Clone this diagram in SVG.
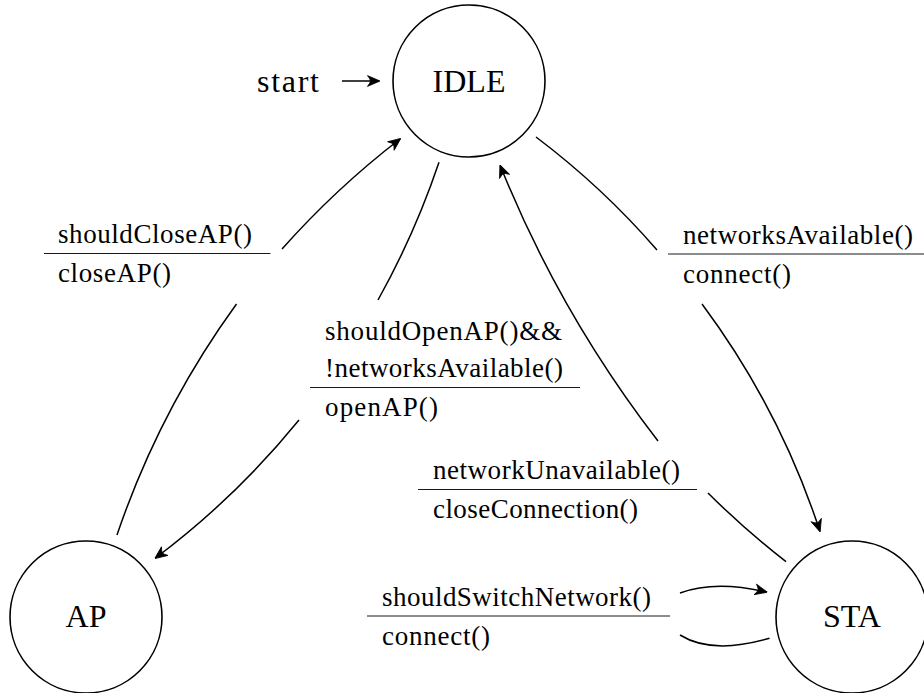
<svg xmlns="http://www.w3.org/2000/svg" width="924" height="693" viewBox="0 0 924 693">
  <style>
    .state { fill: #fff; stroke: #000; stroke-width: 1.6; }
    .name { font-size: 32px; fill: #000; }
    .lbl { font-size: 27px; fill: #000; }
    .rule { stroke: #000; stroke-width: 0.9; fill: none; }
    .edge { fill: none; stroke: #000; stroke-width: 1.5; marker-end: url(#arrow); }
  </style>
  <defs>
    <marker id="arrow" viewBox="-14 -7 15 14" refX="0" refY="0" markerWidth="15" markerHeight="14" markerUnits="userSpaceOnUse" orient="auto">
      <path d="M1,0 L-11.5,-5.4 Q-8.5,-1.4 -8.5,0 Q-8.5,1.4 -11.5,5.4 Z" fill="#000" stroke="#000" stroke-width="0.8" stroke-linejoin="round"/>
    </marker>
  </defs>

  <rect width="924" height="693" fill="#fff"/>

  <!-- transitions: each edge is split where its guard/action label sits -->
  <g id="connectors">
    <path id="start-arrow" class="edge" d="M342,81 L379,81"/>
    <path id="ap-to-idle" class="edge" d="M117,535 Q159.3,410.3 236.5,304 M282,249 Q336.1,188.2 400,139"/>
    <path id="idle-to-ap" class="edge" d="M439,162.3 Q414.9,233.8 378,300 M299,420 Q235.6,498 155.5,558"/>
    <path id="idle-to-sta" class="edge" d="M536,137 Q602.5,187.1 657,250 M702,304 Q779.6,408.3 819.8,531"/>
    <path id="sta-to-idle" class="edge" d="M786,561.7 Q745,529.8 708,493 M658,441 Q559.9,313.9 500.3,165.7"/>
    <path id="sta-loop" class="edge" d="M769.5,638.3 Q712,655 680,635 M680,593 Q715,580 766.5,592"/>
  </g>

  <g font-family="'Liberation Serif', 'Times New Roman', Times, 'DejaVu Serif', serif">
    <g id="idle">
      <circle class="state" cx="469" cy="81" r="76"/>
      <text class="name" x="469" y="92" text-anchor="middle">IDLE</text>
    </g>
    <g id="ap">
      <circle class="state" cx="86" cy="617" r="76"/>
      <text class="name" x="86" y="627" text-anchor="middle">AP</text>
    </g>
    <g id="sta">
      <circle class="state" cx="852" cy="617" r="76"/>
      <text class="name" x="852" y="627" text-anchor="middle">STA</text>
    </g>

    <g id="start">
      <text class="name" x="257" y="92" textLength="62">start</text>
    </g>

    <!-- edge labels: guard above the rule, action below -->
    <g id="label-close-ap">
      <text class="lbl" x="58" y="243" textLength="194">shouldCloseAP()</text>
      <line class="rule" x1="44" y1="253.5" x2="270.5" y2="253.5"/>
      <text class="lbl" x="58" y="282" textLength="113">closeAP()</text>
    </g>
    <g id="label-open-ap">
      <text class="lbl" x="325" y="339.5" textLength="237">shouldOpenAP()&amp;&amp;</text>
      <text class="lbl" x="325" y="377" textLength="238">!networksAvailable()</text>
      <line class="rule" x1="310" y1="387.5" x2="580" y2="387.5"/>
      <text class="lbl" x="325" y="416" textLength="113">openAP()</text>
    </g>
    <g id="label-networks-available">
      <text class="lbl" x="683" y="243.5" textLength="230">networksAvailable()</text>
      <line class="rule" x1="668" y1="254" x2="924" y2="254"/>
      <text class="lbl" x="683" y="282.5" textLength="108">connect()</text>
    </g>
    <g id="label-network-unavailable">
      <text class="lbl" x="433" y="479" textLength="247">networkUnavailable()</text>
      <line class="rule" x1="418" y1="489.5" x2="697" y2="489.5"/>
      <text class="lbl" x="433" y="518" textLength="205">closeConnection()</text>
    </g>
    <g id="label-switch-network">
      <text class="lbl" x="382" y="605.5" textLength="269">shouldSwitchNetwork()</text>
      <line class="rule" x1="367" y1="616" x2="670" y2="616"/>
      <text class="lbl" x="382" y="644.5" textLength="108">connect()</text>
    </g>
  </g>
</svg>
